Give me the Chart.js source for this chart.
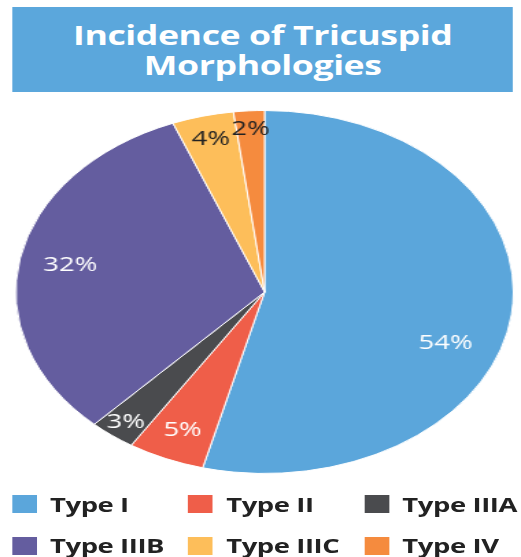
<!DOCTYPE html>
<html>
<head>
<meta charset="utf-8">
<script src="https://cdn.jsdelivr.net/npm/chart.js@4/dist/chart.umd.min.js"></script>
<style>
  html, body { margin: 0; padding: 0; background: #fff; }
  body { width: 521px; height: 557px; overflow: hidden; position: relative; }
  #wrap { position: absolute; left: 0; top: 0; width: 380px; height: 557px;
          transform: scaleX(1.371); transform-origin: 0 0; }
  #title { position: absolute; left: 8.8px; top: 7px; width: 365.7px; height: 85px;
           background: #5BA7DC; color: #fff; font: bold 26px "Open Sans", sans-serif;
           letter-spacing: -0.3px; line-height: 30px; text-align: center; display: flex;
           align-items: center; justify-content: center; }
  #chart { position: absolute; left: 11.4px; top: 110px; }
  #legend { position: absolute; left: 8.8px; top: 483.5px; display: grid;
            grid-template-columns: repeat(3, 128.5px); grid-auto-rows: 41.5px; }
  .item { display: flex; align-items: center; font: bold 20px "Open Sans", sans-serif;
          letter-spacing: -0.3px; color: #222; }
  .box { width: 18px; height: 18px; margin-right: 9.7px; flex: none; }
</style>
</head>
<body>
<div id="wrap">
  <div id="title"></div>
  <canvas id="chart" width="364" height="364"></canvas>
  <div id="legend"></div>
</div>
<script>
const titleLines = ["Incidence of Tricuspid", "Morphologies"];
const categories = ["Type I", "Type II", "Type IIIA", "Type IIIB", "Type IIIC", "Type IV"];
const percentages = [54, 5, 3, 32, 4, 2];
const sliceColors = ["#5BA6DB", "#EF5E49", "#4A4B4E", "#645D9F", "#FDBE5A", "#F58B3E"];
const labelColors = ["#ffffff", "#ffffff", "#ffffff", "#ffffff", "#222222", "#222222"];

// label placement (style, not data)
const labelRadiusFrac = [0.78, 0.83, 0.91, 0.795, 0.87, 0.90];
const labelAngleShiftDeg = [14, 0, 0, 0, 0, 0];

const pieLabels = {
  id: 'pieLabels',
  afterDatasetsDraw(chart) {
    const ctx = chart.ctx;
    const meta = chart.getDatasetMeta(0);
    ctx.save();
    ctx.font = '20px "Open Sans", sans-serif';
    ctx.textAlign = 'center';
    ctx.textBaseline = 'middle';
    meta.data.forEach((arc, i) => {
      const p = arc.getProps(['x', 'y', 'startAngle', 'endAngle', 'outerRadius'], true);
      const mid = (p.startAngle + p.endAngle) / 2 + labelAngleShiftDeg[i] * Math.PI / 180;
      const r = p.outerRadius * labelRadiusFrac[i];
      ctx.fillStyle = labelColors[i];
      ctx.fillText(percentages[i] + '%', p.x + Math.cos(mid) * r, p.y + Math.sin(mid) * r);
    });
    ctx.restore();
  }
};

const chart = new Chart(document.getElementById('chart'), {
  type: 'pie',
  data: {
    labels: categories,
    datasets: [{
      data: percentages,
      backgroundColor: sliceColors,
      borderColor: '#ffffff',
      borderWidth: 1
    }]
  },
  options: {
    responsive: false,
    animation: false,
    layout: { padding: 0 },
    plugins: {
      legend: { display: false },
      title: { display: false },
      tooltip: { enabled: false }
    }
  },
  plugins: [pieLabels]
});

document.getElementById('title').innerHTML = titleLines.join('<br>');
const legend = document.getElementById('legend');
categories.forEach((c, i) => {
  const item = document.createElement('div');
  item.className = 'item';
  const box = document.createElement('span');
  box.className = 'box';
  box.style.background = sliceColors[i];
  item.appendChild(box);
  item.appendChild(document.createTextNode(c));
  legend.appendChild(item);
});
</script>
</body>
</html>
